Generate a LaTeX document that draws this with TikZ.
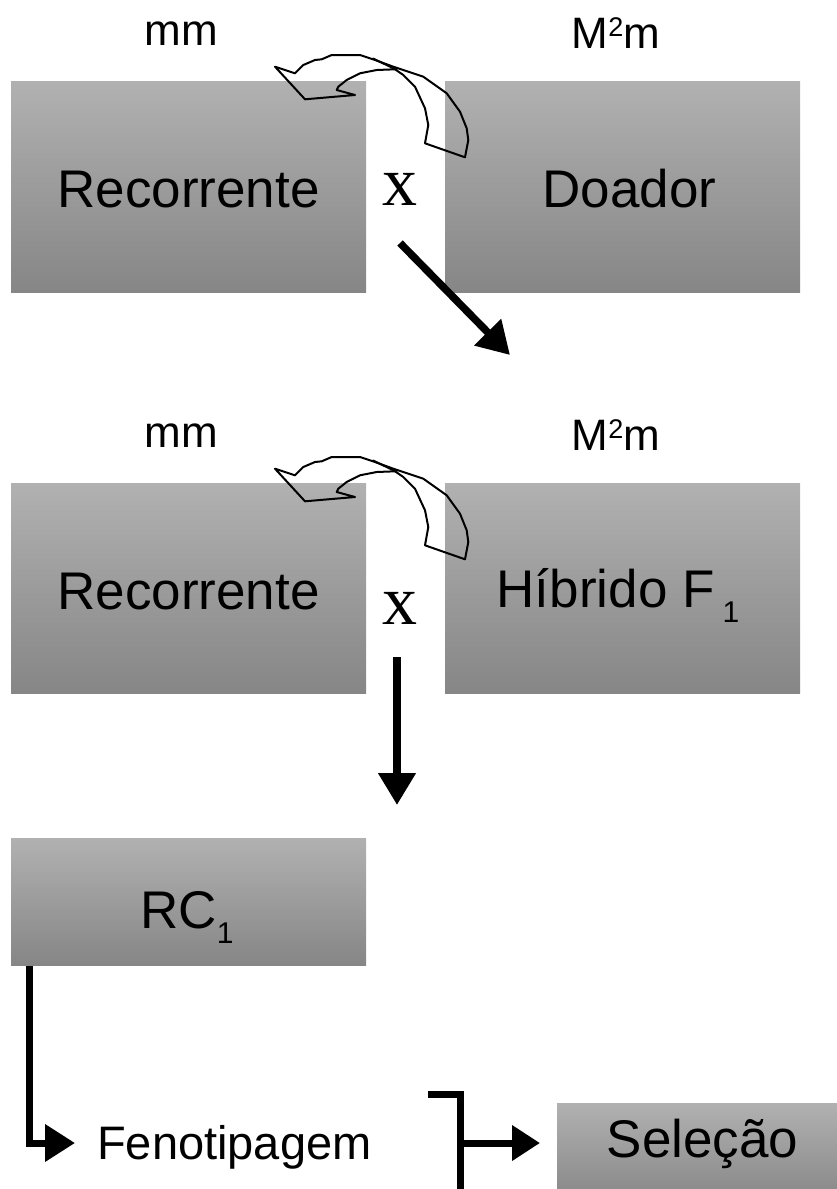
\documentclass[tikz,border=0pt]{standalone}
\usepackage{fontspec}
\setmainfont{Liberation Sans}
\newfontfamily\crossfont{Liberation Serif}
\usetikzlibrary{arrows.meta}
\definecolor{boxtop}{RGB}{177,177,177}
\definecolor{boxbot}{RGB}{134,134,134}
\newcommand\lowone{\raisebox{-15pt}{\fontsize{30}{30}\selectfont 1}}
\newcommand\hightwo{\raisebox{12pt}{\fontsize{27}{27}\selectfont 2}}

\begin{document}
\begin{tikzpicture}[x=1pt,y=-1pt,
  gbox/.style={rectangle, inner sep=0pt, top color=boxtop, bottom color=boxbot},
  boxtxt/.style={anchor=base, inner sep=0pt, font=\fontsize{53}{60}\selectfont},
  lbl/.style={anchor=base, inner sep=0pt, font=\fontsize{44}{50}\selectfont},
  cross/.style={anchor=base, inner sep=0pt, font=\crossfont\fontsize{70}{70}\selectfont},
  heavy/.style={line width=7.5pt, -{Triangle[length=32pt,width=36pt]}},
  elbow/.style={line width=7pt, line join=miter},
  twist/.style={line width=2pt, line join=round, line cap=round}]

\useasboundingbox (0,0) rectangle (836,1189);

% ---- parent boxes, first cross ----
\node[gbox, minimum width=355pt, minimum height=211pt] (rec1) at (188.5,186.5) {};
\node[gbox, minimum width=355pt, minimum height=211pt] (doa)  at (622.5,186.5) {};
\node[boxtxt] (rec1t) at (188.5,207) {Recorrente};
\node[boxtxt] (doat)  at (629.5,207) {Doador};
\node[lbl] (g1) at (181,45) {mm};
\node[lbl] (g2) at (616,48) {M\hightwo m};
\node[cross] (x1) at (400,205) {x};

% ---- parent boxes, backcross ----
\node[gbox, minimum width=355pt, minimum height=210pt] (rec2) at (188.5,588) {};
\node[gbox, minimum width=355pt, minimum height=210pt] (hib)  at (622.5,588) {};
\node[boxtxt] (rec2t) at (188.5,609) {Recorrente};
\node[boxtxt] (hibt)  at (618,607) {Híbrido F\hspace{8pt}\lowone};
\node[lbl] (g3) at (181,447) {mm};
\node[lbl] (g4) at (616,450) {M\hightwo m};
\node[cross] (x2) at (400,624) {x};

% ---- first backcross generation ----
\node[gbox, minimum width=355pt, minimum height=127pt] (rc) at (188.5,901.5) {};
\node[boxtxt] (rct) at (187,928) {RC\lowone};

% ---- selection ----
\node[gbox, minimum width=291pt, minimum height=100pt] (sel) at (702.5,1153) {};
\node[boxtxt] (selt) at (702.5,1157) {Seleção};
\node[anchor=base west, inner sep=0pt, font=\fontsize{47}{50}\selectfont] (fen) at (97,1159) {Fenotipagem};

% ---- twisted crossing arrows ----
\foreach \dy in {0,402}{
  \begin{scope}[shift={(0,\dy)}]
    \draw[twist] (275,66.7) -- (295,73.3) -- (303.3,65) -- (315,60) -- (321.7,59.3)
      -- (331.7,55) -- (360,55) -- (375,60) -- (393.3,66.7) -- (423.3,76.7)
      -- (446.7,93.3) -- (460,111.7) -- (466.7,128.3) -- (468.3,140) -- (465,157.3)
      -- (425,143.3) -- (428.3,125) -- (425,108.3) -- (415,86.7) -- (403.3,75)
      -- (395,69.3) -- (376.7,70) -- (360,73.3) -- (346.7,80) -- (338.3,86.7)
      -- (336.7,90) -- (355,95) -- (305,99.3) -- cycle;
    \draw[twist] (373,58.5) -- (396,69.5);
  \end{scope}
}

% ---- straight arrows ----
\coordinate (d0) at (400,243);
\coordinate (d1) at (510,355);
\draw[heavy] (d0) -- (d1);

\coordinate (v0) at (397,657);
\coordinate (v1) at (397,805);
\draw[heavy] (v0) -- (v1);

% ---- elbow to phenotyping ----
\coordinate (e0) at (29,966);
\coordinate (e1) at (75,1143);
\draw[elbow, -{Triangle[length=30pt,width=36pt]}] (e0) |- (e1);

% ---- bracket to selection ----
\coordinate (b0) at (428,1094);
\coordinate (b1) at (460,1094);
\coordinate (b2) at (460,1192);
\coordinate (b3) at (460,1143);
\coordinate (b4) at (540,1143);
\draw[elbow] (b0) -- (b1) -- (b2);
\draw[elbow, -{Triangle[length=28pt,width=34pt]}] (b3) -- (b4);
\end{tikzpicture}
\end{document}
